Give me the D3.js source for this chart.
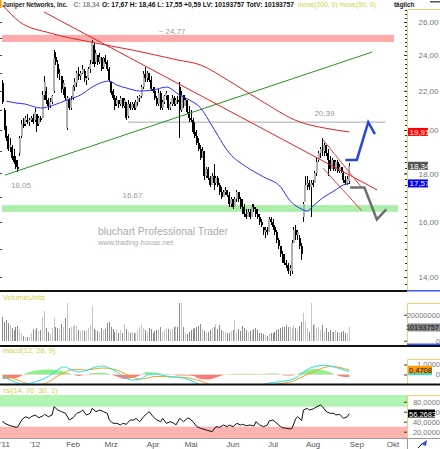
<!DOCTYPE html>
<html>
<head>
<meta charset="utf-8">
<title>Juniper Networks</title>
<script src="https://cdnjs.cloudflare.com/ajax/libs/d3/7.8.5/d3.min.js"></script>
<style>
  body { margin: 0; background: #fff; }
  svg { display: block; font-family: "Liberation Sans", Arial, sans-serif; }
</style>
</head>
<body>
<div id="graph"></div>
<script>
// one candle per trading day, first 7 Dec 2011, last 28 Aug 2012
var holidays = ['2011-12-26', '2012-01-02', '2012-01-16', '2012-02-20', '2012-04-06', '2012-05-28', '2012-07-04', '2012-09-03']
var monthNames = ["'11", "'12", 'Feb', 'Mrz', 'Apr', 'Mai', 'Jun', 'Jul', 'Aug', 'Sep', 'Okt']

var opens = [
  22.4, 21.0, 20.1, 19.7, 19.2, 19.2, 18.8, 18.6, 18.3, 18.9,
  19.7, 20.4, 20.3, 20.5, 20.4, 20.5, 20.6, 20.5, 20.8, 20.3,
  20.6, 20.6, 21.8, 22.0, 21.5, 21.2, 21.4, 22.0, 23.9, 23.5,
  22.9, 22.8, 22.1, 22.2, 20.1, 21.5, 21.1, 21.6, 22.2, 22.4,
  22.9, 22.8, 23.0, 23.1, 22.6, 22.7, 23.2, 23.6, 24.6, 23.6,
  24.0, 23.6, 23.8, 23.3, 23.8, 23.6, 23.2, 22.5, 22.0, 21.6,
  21.3, 21.5, 21.3, 21.6, 21.2, 21.4, 20.7, 21.3, 21.1, 21.3,
  21.1, 21.4, 21.6, 21.7, 22.2, 22.9, 22.7, 23.0, 22.6, 22.1,
  22.0, 21.6, 21.3, 21.9, 21.1, 21.4, 21.7, 21.8, 21.1, 21.3,
  21.6, 21.3, 21.5, 22.2, 21.0, 21.8, 21.2, 21.5, 20.9, 20.6,
  20.5, 19.9, 19.7, 19.4, 19.1, 18.7, 19.0, 17.9, 18.2, 17.8,
  17.5, 17.9, 17.6, 17.8, 17.5, 17.2, 17.0, 17.2, 17.3, 17.1,
  16.7, 16.9, 16.6, 16.9, 17.2, 16.9, 16.6, 16.4, 16.3, 16.2,
  16.4, 16.2, 16.6, 16.5, 16.3, 16.2, 16.0, 15.8, 15.6, 15.7,
  15.6, 16.1, 16.0, 15.8, 15.6, 15.3, 15.1, 14.8, 14.6, 14.5,
  14.4, 14.2, 14.2, 15.2, 15.7, 15.5, 15.4, 15.1, 16.2, 16.8,
  17.5, 17.6, 17.4, 17.6, 17.6, 18.0, 18.6, 18.9, 19.1, 19.0,
  19.3, 18.9, 18.6, 18.2, 18.6, 18.2, 18.5, 18.1, 18.3, 18.0,
  17.7, 17.6, 17.67
]
var highs = [
  22.6, 21.1, 20.2, 19.8, 19.6, 19.3, 19.1, 18.8, 18.6, 19.7,
  20.5, 20.6, 20.7, 20.8, 20.6, 20.7, 20.8, 21.1, 20.8, 20.7,
  20.7, 22.0, 22.8, 22.2, 21.6, 21.6, 21.8, 24.3, 24.2, 23.7,
  23.2, 22.8, 22.6, 22.2, 21.7, 21.6, 21.7, 22.3, 22.7, 23.1,
  23.3, 23.1, 23.4, 23.2, 22.8, 23.3, 23.7, 24.9, 24.7, 24.3,
  24.0, 24.1, 23.9, 23.9, 24.0, 23.7, 23.3, 22.5, 22.1, 21.8,
  21.7, 21.5, 21.7, 21.6, 21.6, 21.4, 21.5, 21.4, 21.4, 21.4,
  21.5, 21.7, 21.8, 22.3, 23.1, 23.3, 23.1, 23.0, 22.8, 22.2,
  22.2, 21.7, 22.1, 22.0, 21.5, 21.8, 22.0, 21.8, 21.4, 21.8,
  21.7, 21.6, 21.7, 22.5, 22.0, 21.8, 21.6, 21.5, 21.2, 21.0,
  20.6, 20.4, 20.0, 19.6, 19.3, 19.2, 19.0, 18.3, 18.3, 17.9,
  18.0, 18.4, 17.9, 17.9, 17.6, 17.4, 17.3, 17.4, 17.3, 17.2,
  17.0, 16.9, 17.0, 17.3, 17.2, 17.0, 16.9, 16.7, 16.5, 16.5,
  16.5, 16.7, 16.7, 16.6, 16.5, 16.3, 16.1, 15.8, 15.8, 15.8,
  16.2, 16.2, 16.1, 15.9, 15.7, 15.4, 15.1, 14.9, 14.8, 14.6,
  14.5, 14.4, 15.3, 15.8, 15.9, 15.7, 15.5, 15.2, 16.8, 17.9,
  17.9, 17.7, 17.7, 17.7, 18.1, 18.7, 19.0, 19.2, 19.6, 19.4,
  19.3, 19.1, 18.8, 18.7, 18.6, 18.6, 18.6, 18.4, 18.3, 18.1,
  17.9, 17.9, 18.46
]
var lows = [
  21.3, 20.0, 19.5, 19.0, 18.95, 18.6, 18.4, 18.2, 18.05, 18.8,
  19.6, 20.1, 20.2, 20.3, 20.2, 20.4, 20.3, 20.4, 19.9, 20.2,
  20.4, 20.6, 21.5, 21.3, 21.0, 21.1, 21.3, 21.9, 23.4, 22.7,
  22.6, 21.9, 21.8, 21.5, 20.0, 21.0, 21.0, 21.5, 22.0, 22.2,
  22.6, 22.6, 22.9, 22.5, 22.3, 22.6, 23.0, 23.5, 23.3, 23.5,
  23.4, 23.5, 23.1, 23.2, 23.5, 23.1, 22.5, 21.8, 21.5, 21.0,
  21.2, 21.1, 21.2, 21.1, 21.1, 20.5, 20.6, 21.0, 21.0, 21.0,
  21.0, 21.2, 21.4, 21.6, 22.1, 22.5, 22.5, 22.5, 22.0, 21.9,
  21.5, 21.2, 21.2, 21.0, 21.0, 21.3, 21.5, 21.0, 21.0, 21.2,
  21.2, 21.2, 21.3, 19.6, 20.9, 21.1, 21.2, 20.8, 20.4, 20.4,
  19.8, 19.6, 19.3, 19.0, 18.6, 18.7, 17.7, 17.8, 17.7, 17.4,
  17.5, 17.3, 17.5, 17.4, 17.1, 16.9, 17.0, 17.1, 17.0, 16.6,
  16.6, 16.5, 16.6, 16.8, 16.8, 16.5, 16.3, 16.2, 16.1, 16.2,
  16.1, 16.2, 16.4, 16.2, 16.1, 15.9, 15.8, 15.5, 15.4, 15.5,
  15.6, 15.9, 15.7, 15.5, 15.2, 15.0, 14.7, 14.5, 14.4, 14.3,
  14.1, 14.05, 14.1, 15.2, 15.3, 15.3, 15.0, 14.6, 16.0, 16.8,
  17.3, 17.3, 16.2, 17.4, 17.6, 17.9, 18.5, 18.7, 18.8, 18.8,
  18.8, 17.9, 18.1, 18.2, 18.1, 18.1, 18.0, 18.0, 18.0, 17.6,
  17.5, 17.5, 17.55
]
var closes = [
  21.4, 20.1, 19.6, 19.1, 19.3, 18.7, 18.5, 18.3, 18.2, 19.6,
  20.3, 20.2, 20.6, 20.4, 20.5, 20.6, 20.4, 20.9, 20.2, 20.6,
  20.5, 21.8, 22.5, 21.5, 21.2, 21.4, 21.7, 23.8, 23.6, 22.9,
  23.0, 22.1, 22.4, 21.6, 21.6, 21.1, 21.5, 22.2, 22.5, 23.0,
  22.8, 23.0, 23.2, 22.6, 22.7, 23.2, 23.5, 24.7, 23.5, 24.1,
  23.6, 23.9, 23.2, 23.8, 23.6, 23.2, 22.6, 21.9, 21.6, 21.2,
  21.5, 21.3, 21.6, 21.2, 21.5, 20.6, 21.3, 21.1, 21.3, 21.1,
  21.4, 21.6, 21.7, 22.2, 22.9, 22.7, 23.0, 22.6, 22.1, 22.0,
  21.6, 21.3, 21.9, 21.1, 21.4, 21.7, 21.9, 21.1, 21.3, 21.6,
  21.3, 21.5, 21.4, 21.0, 21.8, 21.2, 21.5, 20.9, 20.6, 20.5,
  19.9, 19.7, 19.4, 19.1, 18.7, 19.0, 17.9, 18.2, 17.8, 17.5,
  17.9, 17.6, 17.8, 17.5, 17.2, 17.0, 17.2, 17.3, 17.1, 16.7,
  16.9, 16.6, 16.9, 17.2, 16.9, 16.6, 16.4, 16.3, 16.2, 16.4,
  16.2, 16.6, 16.5, 16.3, 16.2, 16.0, 15.9, 15.6, 15.7, 15.6,
  16.1, 16.0, 15.8, 15.6, 15.3, 15.1, 14.8, 14.6, 14.5, 14.4,
  14.2, 14.3, 15.2, 15.7, 15.5, 15.6, 15.1, 14.8, 16.7, 17.5,
  17.6, 17.4, 17.6, 17.5, 18.0, 18.5, 18.9, 19.1, 19.0, 19.3,
  18.9, 18.6, 18.2, 18.6, 18.2, 18.5, 18.1, 18.3, 18.05, 17.7,
  17.6, 17.75, 18.34
]
// millions of shares
var volumes = [
  18.5, 14.6, 15.9, 13.8, 11.7, 9.5, 8.2, 10.8, 11.3, 8.8,
  6.2, 3.6, 3.1, 2.6, 2.6, 6.2, 8.8, 8.2, 9.5, 7.7,
  8.2, 18.0, 23.1, 9.5, 6.9, 5.1, 9.5, 17.2, 10.3, 9.5,
  8.8, 13.0, 10.3, 17.2, 29.3, 9.5, 10.8, 11.3, 11.7, 11.3,
  8.2, 7.7, 8.2, 7.7, 8.2, 9.5, 12.0, 26.7, 8.8, 8.2,
  7.7, 6.9, 9.5, 8.2, 8.8, 13.8, 14.6, 10.8, 8.8, 6.9,
  8.2, 5.6, 8.2, 6.2, 13.0, 8.8, 6.9, 5.6, 6.9, 6.2,
  5.6, 8.2, 10.8, 11.7, 9.5, 8.2, 6.9, 9.5, 8.8, 6.2,
  7.7, 8.2, 8.8, 10.8, 6.9, 8.2, 9.5, 8.8, 8.2, 8.8,
  10.8, 11.3, 10.8, 28.7, 28.7, 10.8, 6.2, 5.1, 6.9, 8.2,
  8.8, 9.5, 10.8, 11.3, 13.0, 8.8, 7.7, 5.6, 6.9, 8.2,
  9.5, 10.8, 13.0, 8.8, 11.7, 8.2, 7.7, 6.9, 6.2, 5.6,
  7.7, 8.2, 16.0, 6.9, 8.8, 7.7, 11.3, 9.5, 8.2, 6.9,
  7.7, 8.2, 8.8, 9.5, 8.2, 6.2, 5.6, 5.1, 4.4, 3.6,
  5.1, 5.6, 6.2, 6.9, 8.2, 8.8, 9.5, 10.8, 10.3, 11.7,
  10.8, 10.8, 9.5, 12.0, 9.5, 8.2, 11.0, 14.6, 21.0, 14.6,
  9.5, 6.9, 28.8, 12.0, 13.0, 9.5, 10.8, 8.2, 12.0, 6.9,
  9.5, 6.9, 8.2, 6.9, 6.9, 8.2, 6.9, 5.6, 6.9, 7.7,
  5.6, 6.2, 10.193757
]

// day numbers below count trading days from 3 Jan 2012
var ma200Days = [-17, -8, 8, 29, 51, 75, 87, 101, 118, 139, 152, 165]
var ma200 = [27.1, 26.0, 25.31, 24.77, 24.29, 23.71, 23.42, 22.59, 21.52, 20.40, 20.10, 19.91]
var ma50Days = [-15, -10, -5, 0, 3, 10, 17, 24, 30, 36, 39, 43, 48, 55, 62, 69, 76, 81, 87, 93, 102, 111, 120, 129, 134, 139, 143, 146, 151, 157, 162, 165]
var ma50 = [21.45, 21.36, 21.3, 21.15, 21.1, 21.26, 21.52, 21.78, 22.2, 22.48, 22.53, 22.31, 22.15, 21.99, 22.04, 22.2, 21.78, 21.52, 21.1, 20.2, 18.92, 18.29, 17.85, 17.42, 16.84, 16.55, 16.43, 16.63, 16.96, 17.25, 17.51, 17.57]

var macdDays = [-17, -13, -9, -5, -1, 3, 7, 11, 15, 19, 23, 27, 31, 35, 39, 43, 47, 51, 55, 59, 63, 67, 71, 75, 79, 83, 87, 91, 95, 99, 103, 107, 111, 115, 119, 123, 127, 131, 135, 139, 143, 147, 151, 155, 159, 163, 165]
var macdLine = [-0.2, -0.55, -0.85, -0.95, -0.8, -0.55, -0.2, 0.35, 0.75, 0.5, 0.25, 0.4, 0.7, 0.85, 0.65, 0.25, -0.3, -0.55, -0.5, -0.05, 0.05, -0.1, -0.2, -0.3, -0.4, -0.7, -1.05, -1.35, -1.5, -1.5, -1.45, -1.4, -1.35, -1.25, -1.05, -0.85, -0.75, -0.65, -0.5, -0.1, 0.5, 0.8, 0.9, 0.85, 0.65, 0.4, 0.3]
var signalLine = [-0.1, -0.3, -0.55, -0.85, -1.0, -1.0, -0.75, -0.25, 0.15, 0.45, 0.5, 0.45, 0.55, 0.65, 0.6, 0.45, 0.1, -0.25, -0.45, -0.35, -0.2, -0.2, -0.25, -0.25, -0.3, -0.45, -0.65, -0.95, -1.25, -1.4, -1.5, -1.5, -1.45, -1.35, -1.2, -1.05, -0.95, -0.85, -0.7, -0.35, 0.0, 0.35, 0.65, 0.8, 0.75, 0.55, 0.4708]
var macdHist = [-0.45, -0.4, -0.3, 0.1, 0.35, 0.45, 0.5, 0.45, 0.3, 0.05, -0.15, 0.05, 0.15, 0.2, 0.05, -0.2, -0.45, -0.35, -0.1, 0.25, 0.2, 0.08, 0.05, -0.1, -0.1, -0.15, -0.45, -0.5, -0.3, -0.05, 0.05, 0.08, 0.08, 0.08, 0.05, 0.1, 0.1, -0.1, -0.1, 0.15, 0.45, 0.55, 0.45, 0.2, -0.1, -0.25, -0.25]

var rsiDays = [
  -17, -16, -13, -10, -9, -7, -5, -3, -2, 0,
  2, 4, 5, 7, 9, 10, 12, 14, 16, 18,
  20, 22, 24, 25, 27, 29, 30, 32, 34, 36,
  38, 39, 41, 43, 45, 46, 48, 50, 52, 53,
  55, 57, 59, 60, 62, 64, 66, 67, 69, 71,
  73, 74, 76, 78, 80, 81, 83, 85, 87, 90,
  93, 95, 97, 99, 101, 102, 104, 106, 108, 109,
  111, 113, 115, 116, 118, 120, 122, 123, 125, 127,
  129, 130, 132, 134, 135, 137, 138, 140, 141, 143,
  144, 146, 148, 150, 151, 153, 155, 157, 158, 160,
  162, 164, 165
]
var rsi = [
  41.4, 36.8, 32, 28.8, 30, 43.4, 50, 46.8, 50, 53.4,
  48, 51.4, 54.8, 50, 53.4, 70, 63.4, 60, 56.8, 43.4,
  48, 56.8, 60, 63.4, 53.4, 56.8, 66.8, 60, 63.4, 60,
  56.8, 43.4, 36.8, 36.8, 33.4, 36.8, 34.8, 43.4, 43.4, 46.8,
  40, 50, 56.8, 60, 50, 43.4, 40, 46.8, 36.8, 40,
  36.8, 33.4, 46.8, 40, 46.8, 46.8, 40, 30, 26.8, 23.4,
  20, 30, 28.8, 33.4, 30, 33.4, 30, 36.8, 33.4, 34.8,
  32, 33.4, 31.4, 40, 33.4, 30, 33.4, 41.4, 43.4, 36.8,
  30, 28, 26.8, 25.4, 26.8, 46.8, 50, 42, 63.4, 66.8,
  63.4, 65.4, 70, 73.4, 70, 60, 56.8, 56.8, 53.4, 54.8,
  46.8, 50, 56.2683
]

// drawn levels and lines, as [trading day, price]
var resistZone = [24.77, 25.2]
var supportZone = [16.4, 16.67]
var zoneDays = [-17.3, 188.5, 190.6]
var level2039 = [[49, 20.39], [184, 20.39]]
var redTrend = [[4.7, 26.64], [179.6, 17.3]]
var greenTrend = [[-15.8, 17.93], [177, 24.17]]
var channelTop = [[151.3, 19.53], [171.8, 17.37]]
var channelBottom = [[151.3, 18.23], [171.5, 16.45]]
var pathUp = [[163, 18.6], [169, 18.6], [175, 20.39], [178.5, 19.8]]
var pathDown = [[165.5, 17.4], [173, 17.4], [179.5, 16.1], [184.5, 16.5]]
var levelNotes = [['~ 24,77', 72, 25.44], ['20,39', 152, 20.83], ['18,05', -7.4, 17.5], ['16,67', 51.2, 17.08]]

var priceTicks = [14, 16, 18, 20, 22, 24, 26]
var volumeTicks = [0, 20]
var macdTicks = [0, 1]
var rsiTicks = [20, 40, 60, 80]

function render(){
  var W = 440, H = 449, right = 407

  var svg = d3.select('#graph').html('')
    .append('svg')
      .attr('width', W)
      .attr('height', H)

  var de = d3.formatLocale({decimal: ',', thousands: '.', grouping: [3], currency: ['', '']})
  var f2 = de.format('.2f')
  var f4 = de.format('.4f')

  // trading calendar
  var dayKey = d3.timeFormat('%Y-%m-%d')
  var days = d3.timeDay.range(new Date(2011, 11, 7), new Date(2012, 10, 1))
    .filter(function(d){ return d.getDay() % 6 != 0 && holidays.indexOf(dayKey(d)) < 0 })
  var day0 = days.findIndex(function(d){ return d.getFullYear() == 2012 })
  var oct1 = days.findIndex(function(d){ return d.getFullYear() == 2012 && d.getMonth() == 9 }) - day0

  var x = d3.scaleLinear().domain([0, oct1]).range([35, 393])
  var y = d3.scaleLog().domain([26, 14]).range([22, 277])
  var vy = d3.scaleLinear().domain([0, 20]).range([340.7, 314.7])
  var my = d3.scaleLinear().domain([0, 1]).range([374.5, 364.5])
  var ry = d3.scaleLinear().domain([0, 100]).range([441.7, 391.7])

  var candles = closes.map(function(c, k){
    return {i: k - day0, o: opens[k], h: highs[k], l: lows[k], c: c, v: volumes[k]}
  })
  var last = candles[candles.length - 1]
  var prev = candles[candles.length - 2]

  var defs = svg.append('defs')
  function clip(id, x0, y0, w, h){
    defs.append('clipPath').attr('id', id)
      .append('rect').attr('x', x0).attr('y', y0).attr('width', w).attr('height', h)
  }
  clip('c-main', 0, 0, right, 290)
  clip('c-vol', 0, 292, right, 53)
  clip('c-macd', 0, 347, right, 37)
  clip('c-macd-pos', 0, 347, right, my(0) - 347)
  clip('c-macd-neg', 0, my(0), right, 384 - my(0))
  clip('c-rsi', 0, 386, right, 52)
  clip('c-rsi-band', 0, 395, right, 43)

  var priceLine = d3.line().x(function(d){ return x(d[0]) }).y(function(d){ return y(d[1]) })

  ///////////// main price panel ////////////
  var main = svg.append('g').attr('clip-path', 'url(#c-main)')

  main.append('rect')
    .attr('x', x(zoneDays[0])).attr('width', x(zoneDays[1]) - x(zoneDays[0]))
    .attr('y', y(resistZone[1])).attr('height', y(resistZone[0]) - y(resistZone[1]))
    .attr('fill', '#ffaaaa')
  main.append('rect')
    .attr('x', x(zoneDays[0])).attr('width', x(zoneDays[2]) - x(zoneDays[0]))
    .attr('y', y(supportZone[1])).attr('height', y(supportZone[0]) - y(supportZone[1]))
    .attr('fill', '#aaeeaa')

  // watermark
  main.append('text')
    .attr('x', 98).attr('y', 235)
    .attr('textLength', 130).attr('lengthAdjust', 'spacingAndGlyphs')
    .style('font-size', '11px').attr('fill', '#ababab')
    .text('bluchart Professional Trader')
  main.append('text')
    .attr('x', 98).attr('y', 245)
    .attr('textLength', 75).attr('lengthAdjust', 'spacingAndGlyphs')
    .style('font-size', '7.5px').attr('fill', '#ababab')
    .text('www.trading-house.net')

  main.append('path').attr('d', priceLine(level2039))
    .attr('fill', 'none').attr('stroke', '#a8a8a8')

  // candles
  var cg = main.append('g').attr('shape-rendering', 'crispEdges')
  cg.selectAll('.wick').data(candles).join('rect')
    .attr('class', 'wick')
    .attr('x', function(d){ return x(d.i) - 0.5 })
    .attr('width', 1)
    .attr('y', function(d){ return y(d.h) })
    .attr('height', function(d){ return Math.max(1, y(d.l) - y(d.h)) })
    .attr('fill', '#000')
  cg.selectAll('.body').data(candles).join('rect')
    .attr('class', 'body')
    .attr('x', function(d){ return x(d.i) - 1 })
    .attr('width', 2)
    .attr('y', function(d){ return y(Math.max(d.o, d.c)) })
    .attr('height', function(d){ return Math.max(1, Math.abs(y(d.o) - y(d.c))) })
    .attr('fill', function(d){ return d.c >= d.o ? '#b0b0b0' : '#000' })

  main.append('path').attr('d', priceLine(greenTrend))
    .attr('fill', 'none').attr('stroke', '#1f9a1f')
  main.append('path').attr('d', priceLine(redTrend))
    .attr('fill', 'none').attr('stroke', '#f01c1c')
  main.append('path').attr('d', priceLine(channelTop))
    .attr('fill', 'none').attr('stroke', '#f23a3a')
  main.append('path').attr('d', priceLine(channelBottom))
    .attr('fill', 'none').attr('stroke', '#f23a3a')

  var maLine = d3.line().curve(d3.curveMonotoneX)
    .x(function(d){ return x(d[0]) }).y(function(d){ return y(d[1]) })
  main.append('path').attr('d', maLine(d3.zip(ma200Days, ma200)))
    .attr('fill', 'none').attr('stroke', '#e62020')
  main.append('path').attr('d', maLine(d3.zip(ma50Days, ma50)))
    .attr('fill', 'none').attr('stroke', '#2b2bff')

  main.append('path').attr('d', priceLine(pathUp))
    .attr('fill', 'none').attr('stroke', '#2a46e0').attr('stroke-width', 2.5)
  main.append('path').attr('d', priceLine(pathDown))
    .attr('fill', 'none').attr('stroke', '#6e6e6e').attr('stroke-width', 2.5)

  main.selectAll('.note').data(levelNotes).join('text')
    .attr('class', 'note')
    .attr('x', function(d){ return x(d[1]) })
    .attr('y', function(d){ return y(d[2]) + 3 })
    .attr('text-anchor', 'middle')
    .style('font-size', '8px').attr('fill', '#9a9a9a')
    .text(function(d){ return d[0] })

  // left edge ticks
  svg.append('g').selectAll('line').data(d3.range(14, 27)).join('line')
    .attr('x1', 0).attr('x2', 2)
    .attr('y1', function(d){ return Math.round(y(d)) + 0.5 })
    .attr('y2', function(d){ return Math.round(y(d)) + 0.5 })
    .attr('stroke', '#444')

  // header
  var head = svg.append('g').style('font-size', '6.6px')
  head.append('rect').attr('x', 0).attr('y', 0).attr('width', 1.5).attr('height', 8).attr('fill', '#ff9900')
  var headParts = [
    [2.5, 65, 'Juniper Networks, Inc.', '#222', 'bold'],
    [73.5, 26, 'C: ' + f2(last.c), '#8a8a8a', 'bold'],
    [102, 192, 'O: ' + f2(last.o) + ' H: ' + f2(last.h) + ' L: ' + f2(last.l) + ' +' + f2(last.c - prev.c) +
      ' LV: ' + Math.round(last.v * 1e6) + ' TotV: ' + Math.round(last.v * 1e6), '#111', 'bold'],
    [297.7, 78, 'move(200, 0) move(50, 0)', '#d6cd48', 'normal'],
    [394, 20.5, 'täglich', '#222', 'bold']
  ]
  head.selectAll('text').data(headParts).join('text')
    .attr('x', function(d){ return d[0] }).attr('y', 7)
    .attr('textLength', function(d){ return d[1] }).attr('lengthAdjust', 'spacingAndGlyphs')
    .attr('fill', function(d){ return d[3] })
    .style('font-weight', function(d){ return d[4] })
    .text(function(d){ return d[2] })
  svg.append('rect').attr('x', 430).attr('y', 1).attr('width', 10).attr('height', 1.5).attr('fill', '#555')

  ///////////// right axis columns ////////////
  var frames = [[291, 9.5], [345, 303.5], [384, 359.5], [438, 395.5]]
  svg.selectAll('.frame').data(frames).join('path')
    .attr('class', 'frame')
    .attr('d', function(d){ return 'M' + (right + 0.5) + ',' + d[0] + ' V' + d[1] + ' H' + W })
    .attr('fill', 'none').attr('stroke', '#f2cf6e')

  function styleAxis(g, size){
    g.attr('font-family', null).attr('font-size', null)
    g.select('.domain').remove()
    g.selectAll('line').attr('stroke', '#333')
    g.selectAll('text').attr('fill', '#777').style('font-size', size)
  }

  svg.append('g').selectAll('line').data(d3.range(13.75, 26.8, 0.25)).join('line')
    .attr('x1', right - 2).attr('x2', right)
    .attr('y1', function(d){ return Math.round(y(d)) + 0.5 })
    .attr('y2', function(d){ return Math.round(y(d)) + 0.5 })
    .attr('stroke', '#333')
  svg.append('g').attr('transform', 'translate(' + (right - 3) + ',0)')
    .call(d3.axisRight(y).tickValues(priceTicks).tickSize(3).tickPadding(11.5).tickFormat(f2))
    .call(styleAxis, '8px')

  function valueBox(yPos, x0, w, bg, fg, txt){
    var g = svg.append('g')
    g.append('rect').attr('x', x0).attr('y', yPos - 4).attr('width', w).attr('height', 8).attr('fill', bg)
    g.append('text').attr('x', x0 + 1.5).attr('y', yPos + 3)
      .style('font-size', '8px').attr('fill', fg).text(txt)
  }
  valueBox(y(ma200[ma200.length - 1]), 408, 20, '#ff0000', '#fff', f2(ma200[ma200.length - 1]))
  valueBox(y(last.c), 408, 20, '#555', '#fff', f2(last.c))
  valueBox(y(ma50[ma50.length - 1]), 408, 20, '#0000ff', '#fff', f2(ma50[ma50.length - 1]))

  ///////////// volume panel ////////////
  var vol = svg.append('g').attr('clip-path', 'url(#c-vol)')
  vol.append('g').attr('shape-rendering', 'crispEdges')
    .selectAll('rect').data(candles).join('rect')
    .attr('x', function(d){ return x(d.i) - 0.5 })
    .attr('width', 1)
    .attr('y', function(d){ return vy(d.v) })
    .attr('height', function(d){ return vy(0) - vy(d.v) })
    .attr('fill', function(d){ return d.c >= d.o ? '#c4c4c4' : '#8a8a8a' })

  var lowerRight = function(g){
    g.selectAll('text').attr('text-anchor', 'end').attr('x', W - right + 3)
  }
  svg.append('g').attr('transform', 'translate(' + (right - 3) + ',0)')
    .call(d3.axisRight(vy).tickValues(volumeTicks).tickSize(3)
      .tickFormat(function(v){ return v == 0 ? '0' : d3.format('d')(v * 1e6) }))
    .call(styleAxis, '7.5px').call(lowerRight)
  svg.append('rect').attr('x', 408).attr('y', vy(last.v) - 4).attr('width', 32).attr('height', 8).attr('fill', '#8a8a8a')
  svg.append('text').attr('x', 439).attr('y', vy(last.v) + 3).attr('text-anchor', 'end')
    .style('font-size', '7.5px').attr('fill', '#111').text(Math.round(last.v * 1e6))

  ///////////// macd panel ////////////
  var macd = svg.append('g').attr('clip-path', 'url(#c-macd)')
  var histArea = d3.area().curve(d3.curveMonotoneX)
    .x(function(d){ return x(d[0]) }).y0(my(0)).y1(function(d){ return my(d[1]) })
  var hist = d3.zip(macdDays, macdHist)
  macd.append('path').attr('d', histArea(hist)).attr('fill', '#8cf08c').attr('clip-path', 'url(#c-macd-pos)')
  macd.append('path').attr('d', histArea(hist)).attr('fill', '#ff7a7a').attr('clip-path', 'url(#c-macd-neg)')

  var mline = d3.line().curve(d3.curveMonotoneX)
    .x(function(d){ return x(d[0]) }).y(function(d){ return my(d[1]) })
  macd.append('path').attr('d', mline(d3.zip(macdDays, signalLine)))
    .attr('fill', 'none').attr('stroke', '#f5a020')
  macd.append('path').attr('d', mline(d3.zip(macdDays, macdLine)))
    .attr('fill', 'none').attr('stroke', '#18e6f0')

  svg.append('g').attr('transform', 'translate(' + (right - 3) + ',0)')
    .call(d3.axisRight(my).tickValues(macdTicks).tickSize(3)
      .tickFormat(function(v){ return v == 0 ? '0' : f4(v) }))
    .call(styleAxis, '7.5px').call(lowerRight)
  var lastMacd = macdLine[macdLine.length - 1], lastSignal = signalLine[signalLine.length - 1]
  svg.append('rect').attr('x', 408).attr('y', my(lastMacd) - 3.5).attr('width', 24).attr('height', 7).attr('fill', '#18e6f0')
  svg.append('rect').attr('x', 408).attr('y', my(lastSignal) - 4).attr('width', 24).attr('height', 7.5).attr('fill', '#ff9c00')
  svg.append('text').attr('x', 409).attr('y', my(lastSignal) + 2.8)
    .style('font-size', '7.5px').attr('fill', '#111').text(f4(lastSignal))

  ///////////// rsi panel ////////////
  var rs = svg.append('g')
  rs.append('g').attr('clip-path', 'url(#c-rsi-band)')
    .selectAll('rect').data([[70, 100, '#b2f5b2'], [0, 30, '#ffb2b2']]).join('rect')
    .attr('x', 0).attr('width', right)
    .attr('y', function(d){ return ry(d[1]) })
    .attr('height', function(d){ return ry(d[0]) - ry(d[1]) })
    .attr('fill', function(d){ return d[2] })
  rs.append('path').attr('clip-path', 'url(#c-rsi)')
    .attr('d', d3.line().x(function(d){ return x(d[0]) }).y(function(d){ return ry(d[1]) })(d3.zip(rsiDays, rsi)))
    .attr('fill', 'none').attr('stroke', '#111')

  svg.append('g').attr('transform', 'translate(' + (right - 3) + ',0)')
    .call(d3.axisRight(ry).tickValues(rsiTicks).tickSize(3).tickFormat(f4))
    .call(styleAxis, '7.5px').call(lowerRight)
  var lastRsi = rsi[rsi.length - 1]
  svg.append('rect').attr('x', 408).attr('y', ry(lastRsi) - 4).attr('width', 27).attr('height', 8).attr('fill', '#000')
  svg.append('text').attr('x', 409).attr('y', ry(lastRsi) + 3)
    .style('font-size', '7.5px').attr('fill', '#fff').text(f4(lastRsi))

  ///////////// panel titles and separators ////////////
  var titles = [['VolumeUnits', 299.5], ['macd(12, 26, 9)', 353], ['rsi(14, 70, 30, 1)', 392.5]]
  svg.selectAll('.title').data(titles).join('text')
    .attr('class', 'title')
    .attr('x', 3).attr('y', function(d){ return d[1] })
    .style('font-size', '7.5px').attr('fill', '#d6cd48')
    .text(function(d){ return d[0] })

  svg.append('rect').attr('x', 0).attr('y', 290).attr('width', right).attr('height', 2).attr('fill', '#111')
  svg.append('rect').attr('x', right).attr('y', 290).attr('width', W - right).attr('height', 1.5).attr('fill', '#3a5cff')
  svg.append('rect').attr('x', right).attr('y', 343.5).attr('width', W - right).attr('height', 1.5).attr('fill', '#3a5cff')
  svg.append('rect').attr('x', 0).attr('y', 345).attr('width', W).attr('height', 2).attr('fill', '#111')
  svg.append('rect').attr('x', 0).attr('y', 383.5).attr('width', W).attr('height', 2).attr('fill', '#111')
  svg.append('line').attr('x1', 0).attr('x2', W).attr('y1', 438.5).attr('y2', 438.5).attr('stroke', '#9a9a9a')
  svg.append('line').attr('x1', right + 0.5).attr('x2', right + 0.5).attr('y1', 438.5).attr('y2', H).attr('stroke', '#9a9a9a')

  ///////////// time axis ////////////
  var monthTicks = []
  days.forEach(function(d, k){
    if (k == 0 || d.getMonth() != days[k - 1].getMonth()) monthTicks.push(k - day0)
  })
  monthTicks = monthTicks.slice(0, monthNames.length)
  svg.append('g').selectAll('text').data(monthTicks).join('text')
    .attr('x', function(d){ return Math.max(5, x(d)) })
    .attr('y', 446.5)
    .attr('text-anchor', 'middle')
    .style('font-size', '8px').attr('fill', '#555')
    .text(function(d, j){ return monthNames[j] })

  // little tool icon in the corner
  svg.append('path').attr('d', 'M418,448 L423,443').attr('stroke', '#111').attr('fill', 'none')
  svg.append('path').attr('d', 'M421,444 L427,440 L426,446 Z').attr('fill', '#2c54d8')
}

render()
</script>
</body>
</html>
